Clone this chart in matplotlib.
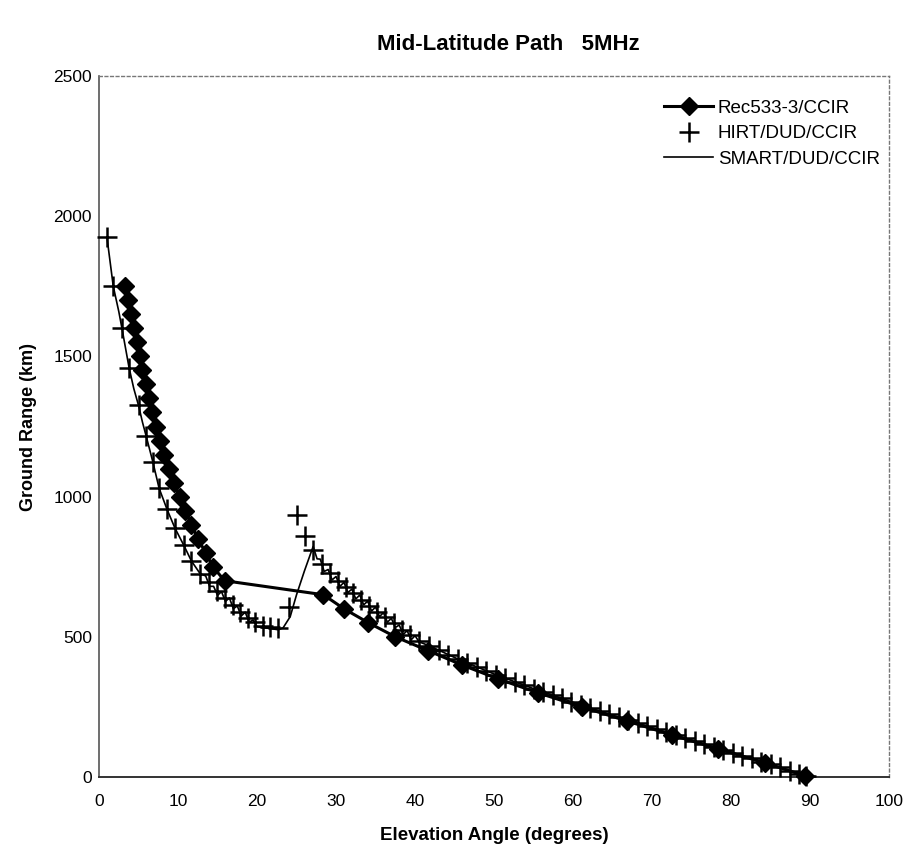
import matplotlib
matplotlib.use("Agg")
import matplotlib.pyplot as plt
from matplotlib.lines import Line2D

plt.rcParams['font.family'] = ['Liberation Sans', 'DejaVu Sans']

# Rec533-3/CCIR (elevation deg, ground range km)
rec_x = [3.3, 3.7, 4.0, 4.4, 4.8, 5.15, 5.5, 5.9, 6.3, 6.7, 7.2, 7.7, 8.2, 8.8, 9.5,
         10.2, 10.9, 11.7, 12.5, 13.5, 14.4, 15.9,
         28.4, 31.0, 34.1, 37.5, 41.7, 45.9, 50.5, 55.6, 61.1, 66.8, 72.5, 78.4, 84.3, 89.3]
rec_y = [1750, 1700, 1650, 1600, 1550, 1500, 1450, 1400, 1350, 1300, 1250, 1200, 1150, 1100, 1050,
         1000, 950, 900, 850, 800, 750, 700,
         650, 600, 550, 500, 450, 400, 350, 300, 250, 200, 150, 100, 50, 5]

# HIRT/DUD/CCIR
hirt_x = [1.0, 1.8, 2.9, 3.8, 5.0, 5.95, 6.8, 7.6, 8.6, 9.6, 10.7, 11.7, 12.8,
          13.9, 14.9, 15.9, 16.9, 17.9, 18.8, 19.75, 20.8, 21.6, 22.7, 24.0, 25.0, 26.1, 27.1,
          28.2, 29.2, 30.2, 31.2, 32.2, 33.2, 34.2, 35.2, 36.2, 37.3, 38.3, 39.4,
          40.5, 41.8, 43.0, 44.2, 45.4, 46.6, 47.8, 49.0, 50.2, 51.4, 52.6, 53.8, 55.0,
          56.2, 57.4, 58.6, 59.8, 61.0, 62.2, 63.4, 64.6, 65.8, 67.0, 68.2, 69.4, 70.6,
          71.8, 73.0, 74.2, 75.4, 76.6, 77.8, 79.0, 80.2, 81.4, 82.6, 83.8, 85.0, 86.2,
          87.4, 88.6, 89.5]
hirt_y = [1925, 1750, 1600, 1460, 1325, 1215, 1125, 1030, 955, 888, 828, 770, 725,
          695, 662, 640, 615, 588, 568, 552, 540, 536, 532, 605, 935, 858, 808,
          760, 726, 700, 678, 655, 633, 611, 590, 570, 549, 526, 505,
          485, 468, 452, 436, 421, 406, 392, 378, 365, 352, 339, 327, 315,
          303, 291, 280, 268, 257, 246, 235, 224, 213, 202, 191, 181, 170,
          160, 149, 139, 128, 118, 107, 97, 87, 76, 66, 55, 45, 34,
          23, 12, 2]

# SMART/DUD/CCIR
smart_x = [1.0, 1.8, 2.5, 2.9, 3.8, 4.4, 5.0, 5.5, 6.0, 6.8, 7.6, 8.6, 9.6, 10.7, 11.7, 12.8,
           13.5, 14.0, 14.5, 15.0, 15.5, 16.0, 16.5, 17.0, 17.5, 18.0, 18.5, 19.0, 19.5, 20.0,
           20.8, 21.6, 22.7, 23.3, 24.2, 25.0, 26.0, 27.1,
           27.6, 28.0, 28.5, 29.0, 29.5, 30.0, 30.5, 31.0, 31.5, 32.0, 32.5, 33.0, 33.5, 34.0,
           34.5, 35.0, 35.5, 36.0, 36.5, 37.0, 37.5, 38.0, 38.5, 39.0, 39.5, 40.0, 40.5,
           41.8, 45.4, 50.2, 55.0, 61.0, 67.0, 73.0, 79.0, 85.0, 89.5]
smart_y = [1925, 1750, 1660, 1600, 1460, 1385, 1325, 1265, 1212, 1125, 1030, 955, 888, 828, 770, 725,
           717, 680, 680, 648, 661, 626, 639, 600, 610, 574, 588, 552, 560, 536,
           532, 530, 525, 532, 572, 650, 735, 822,
           778, 777, 733, 740, 703, 715, 680, 694, 658, 670, 635, 649, 614, 627,
           592, 606, 572, 586, 552, 566, 533, 542, 508, 522, 489, 504, 482,
           468, 421, 365, 315, 257, 202, 149, 97, 45, 2]

x_ticks = [0, 10, 20, 30, 40, 50, 60, 70, 80, 90, 100]
y_ticks = [0, 500, 1000, 1500, 2000, 2500]

fig = plt.figure(figsize=(9.07, 8.56), dpi=100)
ax = fig.add_axes([0.1092, 0.0923, 0.8710, 0.8189])

ax.plot(smart_x, smart_y, color='black', lw=1.2, zorder=2, clip_on=False)
ax.plot(hirt_x, hirt_y, linestyle='none', marker='+', markersize=15, mew=1.8,
        color='black', zorder=3, clip_on=False)
ax.plot(rec_x, rec_y, color='black', lw=2.2, marker='D', markersize=9.5,
        zorder=4, clip_on=False)

ax.set_xlim(0, 100)
ax.set_ylim(0, 2500)
ax.set_xticks(x_ticks)
ax.set_yticks(y_ticks)
ax.tick_params(axis='both', length=0, labelsize=12.5)
ax.tick_params(axis='x', pad=12)
ax.tick_params(axis='y', pad=5)

for s in ['top', 'right']:
    ax.spines[s].set_linestyle((0, (2, 2)))
    ax.spines[s].set_color('#777777')
    ax.spines[s].set_linewidth(1.0)
ax.spines['left'].set_color('#555555')
ax.spines['left'].set_linewidth(1.2)
ax.spines['bottom'].set_color('#333333')
ax.spines['bottom'].set_linewidth(1.4)

ax.set_xlabel('Elevation Angle (degrees)', fontsize=13.5, fontweight='bold', labelpad=13)
ax.set_ylabel('Ground Range (km)', fontsize=13, fontweight='bold', labelpad=12)
fig.text(0.56, 0.948, 'Mid-Latitude Path   5MHz', ha='center', va='center',
         fontsize=16, fontweight='bold')

handles = [
    Line2D([], [], color='black', lw=2.2, marker='D', markersize=9.5),
    Line2D([], [], color='black', linestyle='none', marker='+', markersize=15, mew=1.8),
    Line2D([], [], color='black', lw=1.2),
]
labels = ['Rec533-3/CCIR', 'HIRT/DUD/CCIR', 'SMART/DUD/CCIR']
leg = ax.legend(handles, labels, loc='upper right', bbox_to_anchor=(1.005, 0.985),
                fontsize=13.5, frameon=False, handlelength=2.6, handletextpad=0.25,
                labelspacing=0.45, borderaxespad=0.3)

fig.savefig('out.png', dpi=100, facecolor='white')
